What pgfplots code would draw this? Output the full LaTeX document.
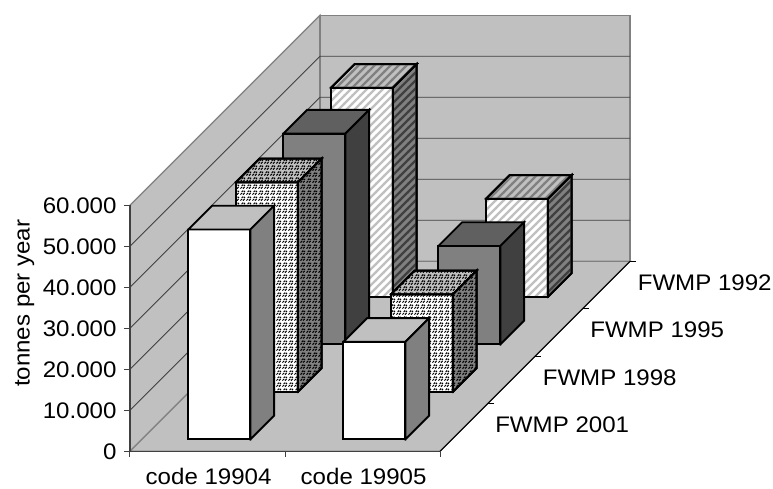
\documentclass[border=0pt]{standalone}
\usepackage{fontspec}
\setmainfont[FakeStretch=1.07]{Liberation Sans}
\usepackage{pgfplots}
\pgfplotsset{compat=1.18}
\usetikzlibrary{patterns}
\definecolor{wall}{HTML}{C0C0C0}
\definecolor{mid}{HTML}{808080}
\definecolor{dk}{HTML}{606060}
\definecolor{dkr}{HTML}{404040}
\pgfdeclarepatternformonly{stripes}{\pgfqpoint{-1pt}{-1pt}}{\pgfqpoint{9pt}{9pt}}{\pgfqpoint{8pt}{8pt}}{%
  \pgfsetlinewidth{2.2pt}\pgfpathmoveto{\pgfqpoint{-1pt}{-1pt}}\pgfpathlineto{\pgfqpoint{9pt}{9pt}}\pgfusepath{stroke}}
\pgfdeclarepatternformonly{dither}{\pgfqpoint{0pt}{0pt}}{\pgfqpoint{6pt}{6pt}}{\pgfqpoint{6pt}{6pt}}{%
  \pgfsetlinewidth{1.2pt}%
  \pgfpathmoveto{\pgfqpoint{0.5pt}{0.5pt}}\pgfpathlineto{\pgfqpoint{2.2pt}{2.2pt}}%
  \pgfpathmoveto{\pgfqpoint{3.5pt}{0.5pt}}\pgfpathlineto{\pgfqpoint{5.2pt}{2.2pt}}%
  \pgfpathmoveto{\pgfqpoint{2pt}{3.5pt}}\pgfpathlineto{\pgfqpoint{3.7pt}{5.2pt}}%
  \pgfpathmoveto{\pgfqpoint{4.5pt}{3.5pt}}\pgfpathlineto{\pgfqpoint{5.8pt}{4.8pt}}%
  \pgfusepath{stroke}}
\tikzset{
  barface/.style={draw=black,line width=1.9pt,line join=miter,line cap=rect,no marks},
  F1/.style={fill=white}, T1/.style={fill=wall}, S1/.style={fill=mid},
  F2/.style={fill=white,postaction={pattern=dither,pattern color=black}},
  T2/.style={fill=wall,postaction={pattern=dither,pattern color=black}},
  S2/.style={fill=mid,postaction={pattern=dither,pattern color=black}},
  F3/.style={fill=mid}, T3/.style={fill=dk}, S3/.style={fill=dkr},
  F4/.style={fill=white,postaction={pattern=stripes,pattern color=wall}},
  T4/.style={fill=wall,postaction={pattern=stripes,pattern color=mid}},
  S4/.style={fill=mid,postaction={pattern=stripes,pattern color=dkr}},
}
% #1 x0, #2 x1, #3 y0, #4 y1, #5 height, #6 series style number
\newcommand{\threedbar}[6]{%
  \addplot3[barface,F#6] coordinates {(#1,#3,0) (#2,#3,0) (#2,#3,#5) (#1,#3,#5) (#1,#3,0)};
  \addplot3[barface,T#6] coordinates {(#1,#3,#5) (#2,#3,#5) (#2,#4,#5) (#1,#4,#5) (#1,#3,#5)};
  \addplot3[barface,S#6] coordinates {(#2,#3,0) (#2,#4,0) (#2,#4,#5) (#2,#3,#5) (#2,#3,0)};
}
\begin{document}
\begin{tikzpicture}
\path[use as bounding box] (-130pt,-36.7pt) rectangle (643pt,451.3pt);
\begin{axis}[
  at={(0pt,0pt)},anchor=origin,
  x={(155pt,0pt)},y={(47.5pt,47.5pt)},z={(0pt,0.0041117pt)},
  xmin=0,xmax=2,ymin=0,ymax=4,zmin=0,zmax=60000,
  clip=false,
  axis line style={draw=none},
  tick style={draw=none},
  major tick length=0pt,
  xtick={0.5,1.5},xticklabels={code 19904,code 19905},
  ytick={0.5,1.5,2.5,3.5},yticklabels={FWMP 2001,FWMP 1998,FWMP 1995,FWMP 1992},
  ztick={0,10000,20000,30000,40000,50000,60000},
  scaled z ticks=false,
  xtick pos=lower,ytick pos=left,ztick pos=left,
  xticklabel pos=lower,yticklabel pos=left,zticklabel pos=left,
  tick label style={font=\fontsize{22.5}{24}\selectfont,black},
  xticklabel style={yshift=-13pt,xshift=6pt},
  yticklabel style={anchor=west,xshift=28pt,yshift=2.5pt},
  zticklabel style={anchor=east,xshift=-10pt,/pgf/number format/.cd,1000 sep={.},assume math mode=true},
  zlabel={tonnes per year},
  zlabel style={font=\fontsize{22.5}{24}\selectfont,at={(axis cs:-0.68,0,36100)},anchor=center},
]
% walls and floor
\addplot3[draw=mid,fill=wall,line width=1.3pt,no marks] coordinates {(0,0,0) (0,4,0) (0,4,60000) (0,0,60000) (0,0,0)};
\addplot3[draw=mid,fill=wall,line width=1.3pt,no marks] coordinates {(0,4,0) (2,4,0) (2,4,60000) (0,4,60000) (0,4,0)};
\addplot3[draw=mid,fill=wall,line width=1.3pt,no marks] coordinates {(0,0,0) (2,0,0) (2,4,0) (0,4,0) (0,0,0)};
% grid lines
\pgfplotsinvokeforeach{10000,20000,30000,40000,50000}{
  \addplot3[draw=dkr,line width=0.9pt,no marks] coordinates {(0,0,#1) (0,4,#1) (2,4,#1)};
}
% axis edges and ticks
\addplot3[draw=dkr,line width=1.3pt,no marks] coordinates {(0,0,60000) (0,0,0) (2,0,0)};
\addplot3[draw=black,line width=1pt,no marks] coordinates {(2,0,0) (2,4,0)};
\pgfplotsinvokeforeach{0,10000,20000,30000,40000,50000,60000}{
  \addplot3[draw=dkr,line width=1pt,no marks] coordinates {(0,0,#1) (-0.04,0,#1)};
}
\pgfplotsinvokeforeach{0,1,2}{
  \addplot3[draw=dkr,line width=1pt,no marks] coordinates {(#1,0,0) (#1,0,-1500)};
}
\pgfplotsinvokeforeach{1,2,3,4}{
  \addplot3[draw=black,line width=1pt,no marks] coordinates {(2,#1,0) (2.04,#1,0)};
}
% bars, back to front
\threedbar{0.3}{0.7}{3.25}{3.75}{51000}{4}
\threedbar{1.3}{1.7}{3.25}{3.75}{23900}{4}
\threedbar{0.3}{0.7}{2.25}{2.75}{51400}{3}
\threedbar{1.3}{1.7}{2.25}{2.75}{24000}{3}
\threedbar{0.3}{0.7}{1.25}{1.75}{51100}{2}
\threedbar{1.3}{1.7}{1.25}{1.75}{23800}{2}
\threedbar{0.3}{0.7}{0.25}{0.75}{51200}{1}
\threedbar{1.3}{1.7}{0.25}{0.75}{23800}{1}
\end{axis}
\end{tikzpicture}
\end{document}
